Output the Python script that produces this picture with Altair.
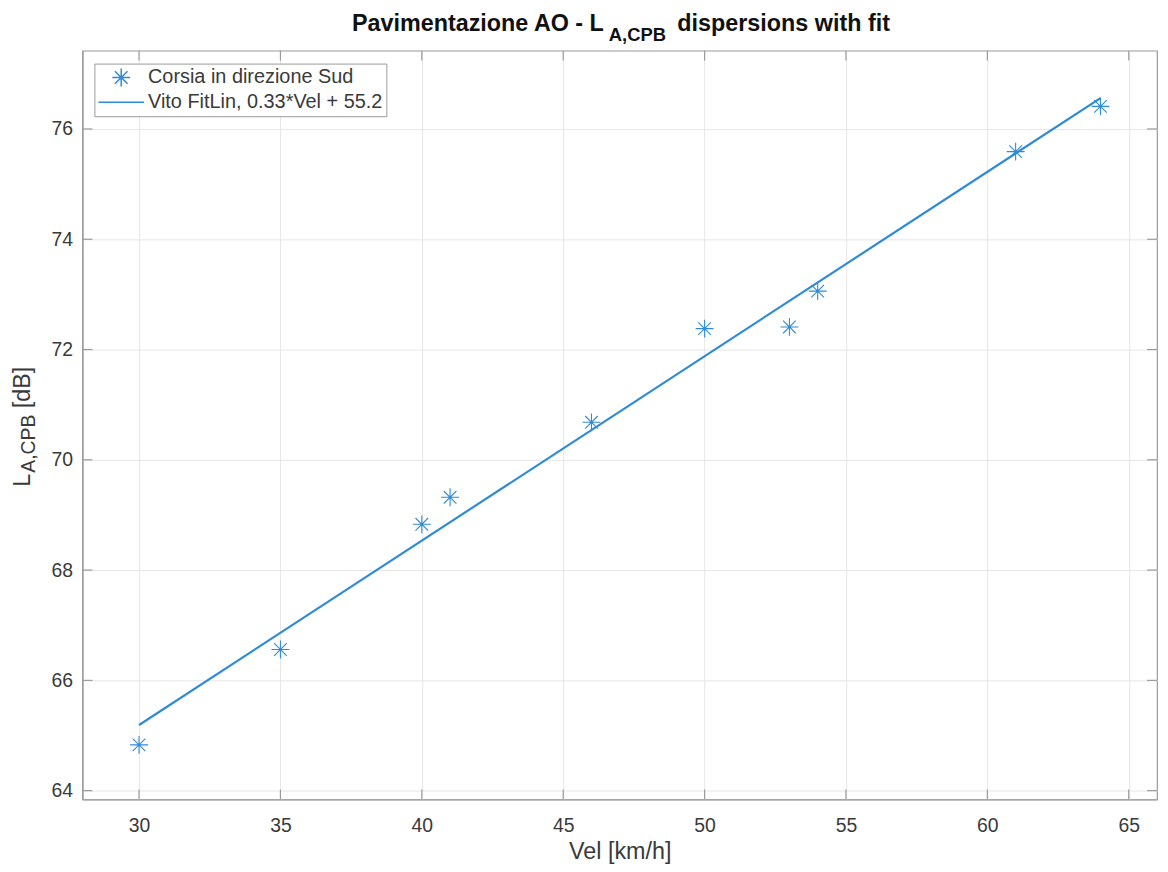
import altair as alt
import pandas as pd

# ---- data ----
vel = [30, 35, 40, 41, 46, 50, 53, 54, 61, 64]
laeq = [64.83, 66.56, 68.83, 69.32, 70.68, 72.38, 72.41, 73.06, 75.59, 76.41]
fit_vel = [30, 64]
fit_l = [65.19, 76.56]
x_ticks = [30, 35, 40, 45, 50, 55, 60, 65]
y_ticks = [64, 66, 68, 70, 72, 74, 76]
series_names = ["Corsia in direzione Sud", "Vito FitLin, 0.33*Vel + 55.2"]

X_DOMAIN = [28, 66]
Y_DOMAIN = [63.84, 77.42]
W, H = 1082, 754
BLUE = "#2f8bd5"
AX = "#9a9a9a"
GRID = "#e6e6e6"
TXT = "#3a3a3a"
FONT = "Liberation Sans"
TICKLEN = 10
ASTERISK = "M-1,0L1,0M0,-1L0,1M-0.707,-0.707L0.707,0.707M-0.707,0.707L0.707,-0.707"
LEGEND_LINE = "M-2.55,0L2.55,0"

pts = pd.DataFrame({"Vel": vel, "L": laeq, "series": series_names[0]})
fit = pd.DataFrame({"Vel": fit_vel, "L": fit_l, "series": series_names[1]})
xt = pd.DataFrame({"Vel": x_ticks})
yt = pd.DataFrame({"L": y_ticks})

xs = alt.Scale(domain=X_DOMAIN, nice=False, zero=False)
ys = alt.Scale(domain=Y_DOMAIN, nice=False, zero=False)

x_axis = alt.Axis(values=x_ticks, title="Vel [km/h]", grid=True, ticks=False,
                  labelPadding=17, titlePadding=5)
y_axis = alt.Axis(values=y_ticks, title=None, grid=True, ticks=False, labelPadding=10)

x_enc = alt.X("Vel:Q", scale=xs, axis=x_axis)
y_enc = alt.Y("L:Q", scale=ys, axis=y_axis)

legend = alt.Legend(title=None, orient="none", legendX=12, legendY=13,
                    strokeColor=AX, fillColor="white", padding=4,
                    rowPadding=3, symbolSize=324, symbolStrokeWidth=1.5,
                    symbolOffset=13, labelOffset=17, labelFontSize=20,
                    labelFont=FONT, labelColor=TXT, labelLimit=0)

color = alt.Color("series:N", scale=alt.Scale(domain=series_names, range=[BLUE, BLUE]),
                  legend=legend)
shape = alt.Shape("series:N", scale=alt.Scale(domain=series_names, range=[ASTERISK, LEGEND_LINE]),
                  legend=legend)

points = alt.Chart(pts).mark_point(filled=False, size=324, strokeWidth=1.1, opacity=1).encode(
    x=x_enc, y=y_enc, color=color, shape=shape)

line = alt.Chart(fit).mark_line(strokeWidth=2.2).encode(
    x=x_enc, y=y_enc, color=color)

# inward ticks on all four sides
tick_x_bottom = alt.Chart(xt).mark_rule(color=AX, strokeWidth=1.2).encode(
    x=x_enc, y=alt.value(H), y2=alt.value(H - TICKLEN))
tick_x_top = alt.Chart(xt).mark_rule(color=AX, strokeWidth=1.2).encode(
    x=x_enc, y=alt.value(0), y2=alt.value(TICKLEN))
tick_y_left = alt.Chart(yt).mark_rule(color=AX, strokeWidth=1.2).encode(
    y=y_enc, x=alt.value(0), x2=alt.value(TICKLEN))
tick_y_right = alt.Chart(yt).mark_rule(color=AX, strokeWidth=1.2).encode(
    y=y_enc, x=alt.value(W), x2=alt.value(W - TICKLEN))

one = pd.DataFrame({"k": [0]})

# title with subscript
TCOL = "#111111"
t1 = alt.Chart(one).mark_text(text="Pavimentazione AO - L", font=FONT, fontSize=23.5,
                              fontWeight="bold", color=TCOL, align="right",
                              baseline="alphabetic").encode(x=alt.value(525), y=alt.value(-20))
t2 = alt.Chart(one).mark_text(text="A,CPB", font=FONT, fontSize=18.5, fontWeight="bold",
                              color=TCOL, align="left",
                              baseline="alphabetic").encode(x=alt.value(530), y=alt.value(-10))
t3 = alt.Chart(one).mark_text(text="dispersions with fit", font=FONT, fontSize=23.5,
                              fontWeight="bold", color=TCOL, align="left",
                              baseline="alphabetic").encode(x=alt.value(599), y=alt.value(-20))

# y-axis title with subscript (rotated)
yl1 = alt.Chart(one).mark_text(text="L", font=FONT, fontSize=23.5, color=TXT, angle=270,
                               align="left", baseline="alphabetic").encode(
    x=alt.value(-53), y=alt.value(439))
yl2 = alt.Chart(one).mark_text(text="A,CPB", font=FONT, fontSize=19.5, color=TXT, angle=270,
                               align="left", baseline="alphabetic").encode(
    x=alt.value(-48), y=alt.value(425))
yl3 = alt.Chart(one).mark_text(text="[dB]", font=FONT, fontSize=23.5, color=TXT, angle=270,
                               align="left", baseline="alphabetic").encode(
    x=alt.value(-53), y=alt.value(360))

chart = alt.layer(
    points, line, tick_x_bottom, tick_x_top, tick_y_left, tick_y_right,
    t1, t2, t3, yl1, yl2, yl3
).properties(
    width=W, height=H, autosize="none",
    padding={"left": 75, "top": 40, "right": 3, "bottom": 62},
).configure_view(
    stroke=AX, strokeWidth=1.2
).configure_axis(
    domainColor=AX, domainWidth=1.2, gridColor=GRID, gridWidth=1,
    labelFont=FONT, labelFontSize=19.5, labelColor=TXT,
    titleFont=FONT, titleFontSize=23.5, titleColor=TXT, titleFontWeight="normal",
)

chart.save("out.html", embed_options={"renderer": "svg", "actions": False})
